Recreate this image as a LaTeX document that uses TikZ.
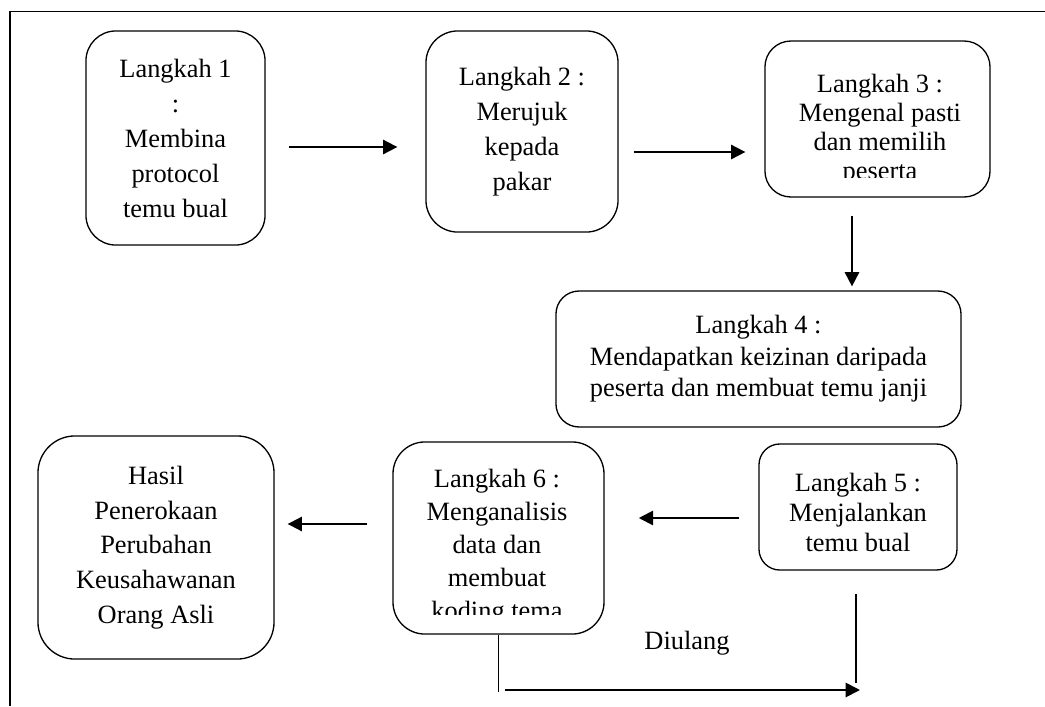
\documentclass[tikz,border=0pt]{standalone}
\usepackage{fontspec}
\setmainfont{Liberation Serif}
\usepackage{tikz}
\usetikzlibrary{arrows.meta}

\newcommand{\boxfont}[1]{\fontsize{12}{#1}\selectfont}
\tikzset{
  stepbox/.style={draw, line width=0.6pt, rounded corners=#1, align=center, inner sep=0pt},
  stepbox/.default=13pt,
  flow/.style={line width=0.85pt, -{Triangle[length=6.5pt,width=6.5pt]}}
}

\begin{document}
\begin{tikzpicture}[x=0.4545pt, y=-0.4545pt, every node/.style={font=\boxfont{14}}]
      \useasboundingbox (0,0) rectangle (1045,706);
      \draw[line width=0.8pt] (10,706) -- (10,11.5) -- (1045,11.5);
      \node[stepbox=13.6pt, minimum width=81.4pt, minimum height=97.3pt, font=\boxfont{15.9}] (L1) at (175.5,138) {Langkah 1\\:\\Membina\\protocol\\temu bual};
      \node[stepbox=14.5pt, minimum width=87.3pt, minimum height=91.4pt, font=\boxfont{15.9}] (L2) at (522,131.5) {Langkah 2 :\\Merujuk\\kepada\\pakar};
      \node[stepbox=11.8pt, minimum width=102.3pt, minimum height=70.9pt] (L3) at (877.5,119) {};
      \node[stepbox=10.5pt, minimum width=184.1pt, minimum height=61.8pt, font=\boxfont{14.3}] (L4) at (758.5,359) {Langkah 4 :\\Mendapatkan keizinan daripada\\peserta dan membuat temu janji};
      \node[stepbox=9.5pt, minimum width=90pt, minimum height=57.3pt, font=\boxfont{13.6}] (L5) at (858,507) {\rule{0pt}{13.6pt}Langkah 5 :\\Menjalankan\\temu bual};
      \node[stepbox=14.5pt, minimum width=95.9pt, minimum height=87.3pt] (L6) at (498.5,538) {};
      \node[stepbox=16.8pt, minimum width=107.3pt, minimum height=101.4pt, font=\boxfont{15.8}] (H) at (156,547.5) {Hasil\\Penerokaan\\Perubahan\\Keusahawanan\\Orang Asli};
        % text cut off at the box bottom
      \begin{scope}
        \clip (765,41) rectangle (990,177);
        \node[align=center, inner sep=0pt, font=\boxfont{13.2}] (L3t) at (880,129.3) {Langkah 3 :\\Mengenal pasti\\dan memilih\\peserta};
      \end{scope}
      \begin{scope}
        \clip (393,442) rectangle (604,614);
        \node[align=center, inner sep=0pt, font=\boxfont{15}] (L6t) at (497,547) {Langkah 6 :\\Menganalisis\\data dan\\membuat\\koding tema};
      \end{scope}
      \node (D) at (687,643) {Diulang};
      \coordinate (P) at (505,690);
      \coordinate (Q) at (860,690);
      \coordinate (R) at (856,683);
      \draw[flow, shorten <=10.5pt, shorten >=12.7pt] (L1.east |- 0,147) -- (L2.west |- 0,147);
      \draw[flow, shorten <=6.8pt, shorten >=8.6pt] (L2.east |- 0,152) -- (L3.west |- 0,152);
      \draw[flow, shorten <=8.2pt, shorten >=1.8pt] (L3.south -| 852,0) -- (L4.north -| 852,0);
      \draw[flow, shorten <=8.6pt, shorten >=15.5pt] (L5.west |- 0,518) -- (L6.east |- 0,518);
      \draw[flow, shorten <=11.4pt, shorten >=5.9pt] (L6.west |- 0,524) -- (H.east |- 0,524);
      \draw[line width=0.6pt] (L6.south) -- ++(0,57);
      \draw[flow] (P) -- (Q);
      \draw[line width=0.6pt, shorten <=10.5pt] (L5.south -| R) -- (R);
    \end{tikzpicture}
\end{document}
